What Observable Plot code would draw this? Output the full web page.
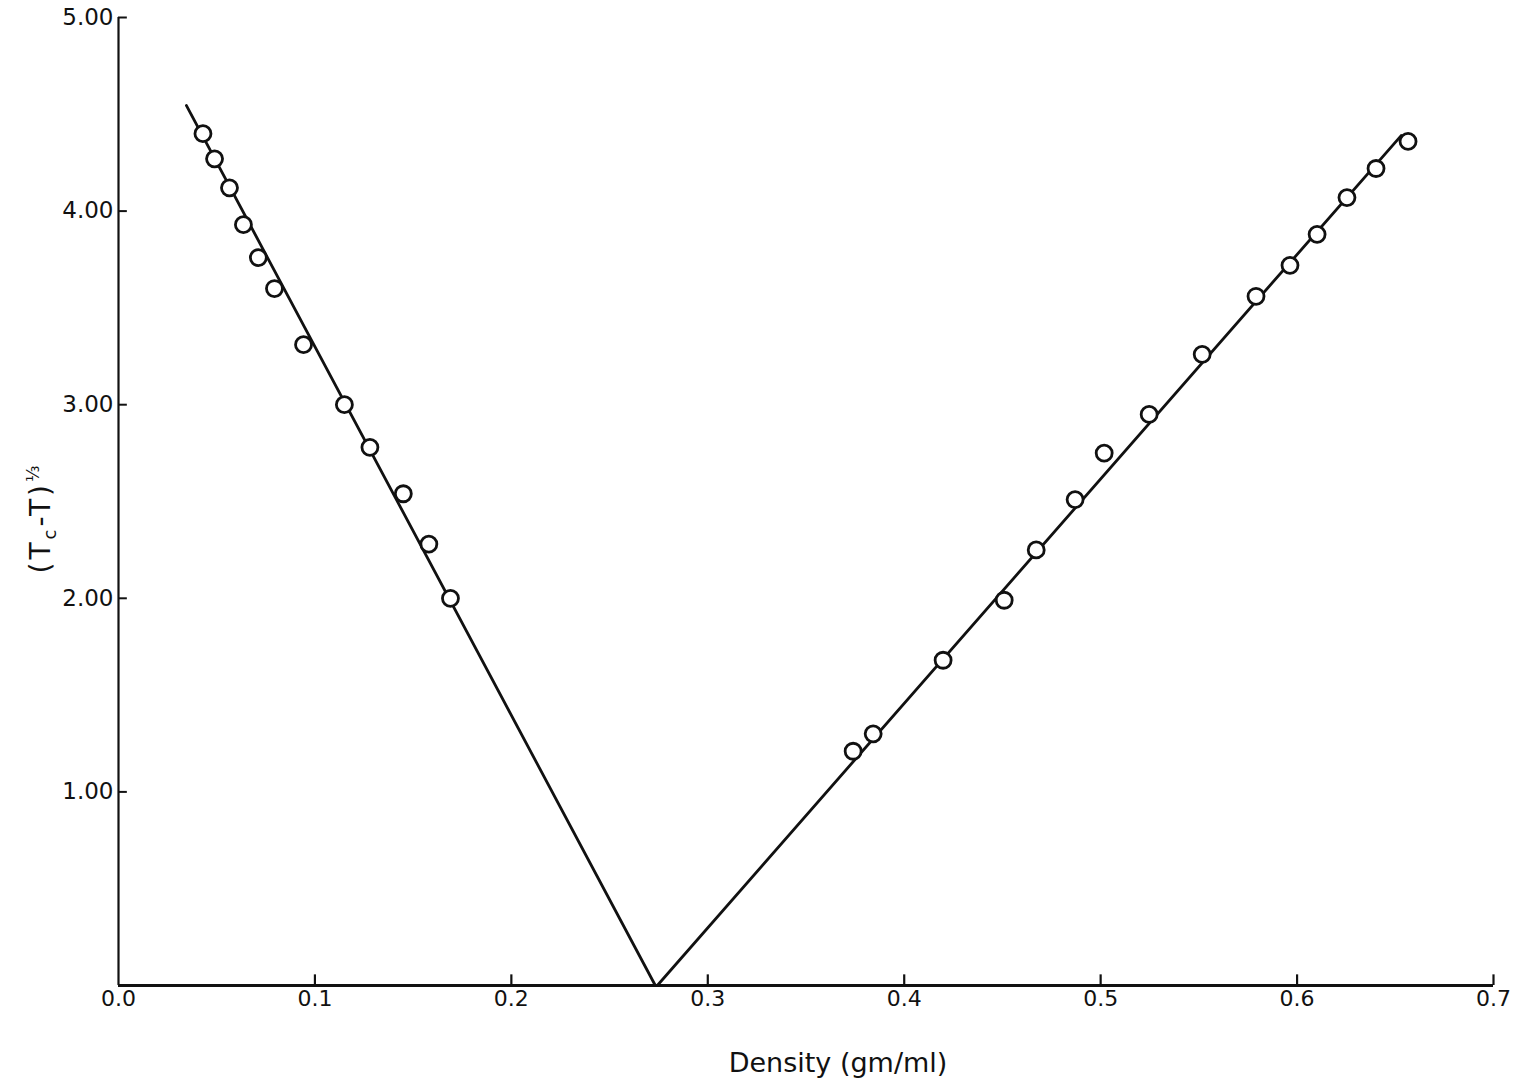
<!DOCTYPE html>
<html>
<head>
<meta charset="utf-8">
<script src="https://cdn.jsdelivr.net/npm/d3@7"></script>
<script src="https://cdn.jsdelivr.net/npm/@observablehq/plot@0.6"></script>
<style>
  html, body { margin: 0; padding: 0; background: #fff; }
  #chart svg { display: block; }
</style>
</head>
<body>
<div id="chart"></div>
<script>
// ---- data ----
const xTicks = [0.0, 0.1, 0.2, 0.3, 0.4, 0.5, 0.6, 0.7];
const xTickLabels = ["0.0", "0.1", "0.2", "0.3", "0.4", "0.5", "0.6", "0.7"];
const yTicks = [1, 2, 3, 4, 5];
const yTickLabels = ["1.00", "2.00", "3.00", "4.00", "5.00"];

// vapour (low-density) branch
const lowDensity = [0.0430, 0.0489, 0.0565, 0.0636, 0.0712, 0.0794, 0.0942, 0.1150, 0.1280, 0.1450, 0.1580, 0.1690];
const lowValue   = [4.40, 4.27, 4.12, 3.93, 3.76, 3.60, 3.31, 3.00, 2.78, 2.54, 2.28, 2.00];
// liquid (high-density) branch
const highDensity = [0.3740, 0.3842, 0.4198, 0.4509, 0.4672, 0.4870, 0.5018, 0.5247, 0.5517, 0.5791, 0.5964, 0.6102, 0.6254, 0.6402, 0.6565];
const highValue   = [1.21, 1.30, 1.68, 1.99, 2.25, 2.51, 2.75, 2.95, 3.26, 3.56, 3.72, 3.88, 4.07, 4.22, 4.36];

// fitted lines meeting at the critical density
const leftLineX  = [0.0346, 0.2733];
const leftLineY  = [4.545, 0.0];
const rightLineX = [0.2743, 0.6530];
const rightLineY = [0.0, 4.39];

const xLabel = "Density (gm/ml)";

// ---- build ----
const points = lowDensity.map((x, i) => ({x, y: lowValue[i]}))
  .concat(highDensity.map((x, i) => ({x, y: highValue[i]})));
const leftLine = leftLineX.map((x, i) => ({x, y: leftLineY[i]}));
const rightLine = rightLineX.map((x, i) => ({x, y: rightLineY[i]}));

const font = "'DejaVu Sans', 'Liberation Sans', sans-serif";

const plot = Plot.plot({
  width: 1522,
  height: 1087,
  marginLeft: 118,
  marginRight: 29,
  marginTop: 17,
  marginBottom: 102,
  style: {fontFamily: font, color: "#111", background: "#fff"},
  x: {domain: [0, 0.7]},
  y: {domain: [0, 5]},
  marks: [
    Plot.axisX({ticks: xTicks, tickFormat: (d, i) => xTickLabels[i], tickSize: 0, tickPadding: 5, label: null, fontSize: 22}),
    Plot.axisY({ticks: yTicks, tickFormat: (d, i) => yTickLabels[i], tickSize: 0, tickPadding: 5, label: null, fontSize: 23}),
    Plot.ruleY([0], {x1: 0, x2: 0.7, stroke: "#111", strokeWidth: 2.8}),
    Plot.ruleX([0], {y1: 0, y2: 5, stroke: "#111", strokeWidth: 2.2}),
    Plot.ruleX(xTicks.slice(1), {y1: 0, y2: 0.055, stroke: "#111", strokeWidth: 2.2}),
    Plot.ruleY(yTicks, {x1: 0, x2: 0.0045, stroke: "#111", strokeWidth: 2}),
    Plot.line(leftLine, {x: "x", y: "y", stroke: "#111", strokeWidth: 2.8}),
    Plot.line(rightLine, {x: "x", y: "y", stroke: "#111", strokeWidth: 2.8}),
    Plot.dot(points, {x: "x", y: "y", r: 8, fill: "white", stroke: "#111", strokeWidth: 2.8})
  ]
});

const svg = d3.select(plot);
svg.selectAll("g[aria-label='x-axis tick label']").attr("font-size", 22);
svg.selectAll("g[aria-label='y-axis tick label']").attr("font-size", 23);
// x axis title
svg.append("text")
  .attr("x", 838).attr("y", 1072)
  .attr("text-anchor", "middle")
  .attr("font-family", font).attr("font-size", 27).attr("fill", "#111")
  .text(xLabel);
// y axis title: (Tc - T)^(1/3)
const yl = svg.append("text")
  .attr("transform", "translate(50,518) rotate(-90)")
  .attr("text-anchor", "middle")
  .attr("font-family", font).attr("font-size", 28).attr("fill", "#111")
  .attr("letter-spacing", 3);
yl.append("tspan").text("(T");
yl.append("tspan").attr("font-size", 18).attr("dy", 6).text("c");
yl.append("tspan").attr("dy", -6).text("-T)");
yl.append("tspan").attr("font-size", 17).attr("dy", -11).text("⅓");

document.getElementById("chart").appendChild(plot);
</script>
</body>
</html>
